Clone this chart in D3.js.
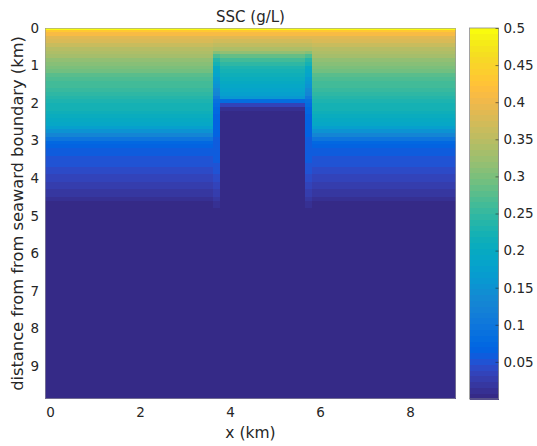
<!DOCTYPE html>
<html><head><meta charset="utf-8">
<script src="https://cdn.jsdelivr.net/npm/d3@7"></script>
<style>
html,body{margin:0;padding:0;background:#fff;}
text{font-family:"DejaVu Sans",sans-serif;fill:#262626;}
</style></head>
<body>
<svg id="chart" width="537" height="446"></svg>
<script>
// ---- data ----
const xTicks = [0, 2, 4, 6, 8];
const yTicks = [0, 1, 2, 3, 4, 5, 6, 7, 8, 9];
const cbTicks = [0.05, 0.1, 0.15, 0.2, 0.25, 0.3, 0.35, 0.4, 0.45, 0.5];
const cbTickLabels = ["0.05", "0.1", "0.15", "0.2", "0.25", "0.3", "0.35", "0.4", "0.45", "0.5"];
// grid row edges (km from seaward boundary)
const depthEdges = [0, 0.05, 0.1, 0.2, 0.3, 0.4, 0.5, 0.6, 0.7, 0.8, 0.9, 1.0,
  1.1, 1.2, 1.3, 1.4, 1.5, 1.6, 1.7, 1.8, 1.9, 2.0, 2.1, 2.2, 2.3, 2.4, 2.5,
  2.6, 2.7, 2.8, 2.9, 3.0, 3.1, 3.2, 3.3, 3.4, 3.5, 3.6, 3.7, 3.8, 3.9, 4.0,
  4.1, 4.2, 4.3, 4.4, 4.5, 4.6, 4.7, 4.8, 4.9, 5.0, 9.88];
// column group edges (x, km)
const xEdges = [-0.11, 3.62, 3.78, 5.67, 5.83, 9.02];
// SSC profiles (g/L), one value per row
const sscOuter = [0.5, 0.43, 0.41, 0.39, 0.375, 0.36, 0.35, 0.34, 0.33, 0.32,
  0.31, 0.30, 0.29, 0.28, 0.272, 0.265, 0.258, 0.25, 0.245, 0.238,
  0.232, 0.226, 0.22, 0.214, 0.207, 0.2, 0.19, 0.175, 0.155, 0.13,
  0.1, 0.078, 0.068, 0.062, 0.058, 0.054, 0.05, 0.047, 0.044, 0.041,
  0.038, 0.035, 0.031, 0.027, 0.023, 0.018, 0.012, 0.006, 0.004, 0.004,
  0.004, 0.004];
const sscEdge = [0.5, 0.43, 0.41, 0.39, 0.372, 0.357, 0.34, 0.305, 0.27, 0.24,
  0.22, 0.203, 0.19, 0.18, 0.17, 0.16, 0.15, 0.14, 0.125, 0.105,
  0.09, 0.08, 0.075, 0.072, 0.07, 0.068, 0.066, 0.065, 0.064, 0.063,
  0.062, 0.061, 0.06, 0.059, 0.058, 0.057, 0.055, 0.053, 0.051, 0.049,
  0.046, 0.043, 0.039, 0.035, 0.03, 0.025, 0.02, 0.015, 0.01, 0.006,
  0.004, 0.004];
const sscIsland = [0.5, 0.43, 0.41, 0.39, 0.373, 0.357, 0.342, 0.315, 0.288, 0.265,
  0.246, 0.232, 0.22, 0.211, 0.204, 0.198, 0.192, 0.186, 0.178, 0.16,
  0.08, 0.035, 0.012, 0.004, 0.004, 0.004, 0.004, 0.004, 0.004, 0.004,
  0.004, 0.004, 0.004, 0.004, 0.004, 0.004, 0.004, 0.004, 0.004, 0.004,
  0.004, 0.004, 0.004, 0.004, 0.004, 0.004, 0.004, 0.004, 0.004, 0.004,
  0.004, 0.004];
const columnProfiles = [sscOuter, sscEdge, sscIsland, sscEdge, sscOuter];

// ---- parula colormap (64) ----
const parula = [[0.2081,0.1663,0.5292],[0.2116,0.1898,0.5777],[0.2123,0.2138,0.6270],[0.2081,0.2386,0.6771],
[0.1959,0.2645,0.7279],[0.1707,0.2919,0.7792],[0.1253,0.3242,0.8303],[0.0591,0.3598,0.8683],
[0.0117,0.3875,0.8820],[0.0060,0.4086,0.8828],[0.0165,0.4266,0.8786],[0.0329,0.4430,0.8720],
[0.0498,0.4586,0.8641],[0.0629,0.4737,0.8554],[0.0723,0.4887,0.8467],[0.0779,0.5040,0.8384],
[0.0793,0.5200,0.8312],[0.0749,0.5375,0.8263],[0.0641,0.5570,0.8240],[0.0488,0.5772,0.8228],
[0.0343,0.5966,0.8199],[0.0265,0.6137,0.8135],[0.0239,0.6287,0.8038],[0.0231,0.6418,0.7913],
[0.0228,0.6535,0.7768],[0.0267,0.6642,0.7607],[0.0384,0.6743,0.7436],[0.0590,0.6838,0.7254],
[0.0843,0.6928,0.7062],[0.1133,0.7015,0.6859],[0.1453,0.7098,0.6646],[0.1801,0.7177,0.6424],
[0.2178,0.7250,0.6193],[0.2586,0.7317,0.5954],[0.3022,0.7376,0.5712],[0.3482,0.7424,0.5473],
[0.3953,0.7459,0.5244],[0.4420,0.7481,0.5033],[0.4871,0.7491,0.4840],[0.5300,0.7491,0.4661],
[0.5709,0.7485,0.4494],[0.6099,0.7473,0.4337],[0.6473,0.7456,0.4188],[0.6834,0.7435,0.4044],
[0.7184,0.7411,0.3905],[0.7525,0.7384,0.3768],[0.7858,0.7356,0.3633],[0.8185,0.7327,0.3498],
[0.8507,0.7299,0.3360],[0.8824,0.7274,0.3217],[0.9139,0.7258,0.3063],[0.9450,0.7261,0.2886],
[0.9739,0.7314,0.2666],[0.9938,0.7455,0.2403],[0.9990,0.7653,0.2164],[0.9955,0.7861,0.1967],
[0.9880,0.8066,0.1794],[0.9789,0.8271,0.1633],[0.9697,0.8481,0.1475],[0.9626,0.8705,0.1309],
[0.9589,0.8949,0.1132],[0.9598,0.9218,0.0948],[0.9661,0.9514,0.0755],[0.9763,0.9831,0.0538]]
  .map(c => d3.rgb(c[0]*255, c[1]*255, c[2]*255).toString());
const cmin = 0, cmax = 0.5;
const colorScale = d3.scaleQuantize().domain([cmin, cmax]).range(parula);

// ---- layout ----
const svg = d3.select("#chart");
const X0 = 45, X1 = 456, Y0 = 28, Y1 = 399;
const x = d3.scaleLinear().domain([-0.11, 9.02]).range([X0, X1]);
const y = d3.scaleLinear().domain([0, 9.88]).range([Y0, Y1]);

// cells
const cells = [];
columnProfiles.forEach((prof, ci) => {
  prof.forEach((v, ri) => {
    cells.push({x0: xEdges[ci], x1: xEdges[ci+1], d0: depthEdges[ri], d1: depthEdges[ri+1], v});
  });
});
svg.append("g").attr("shape-rendering", "crispEdges")
  .selectAll("rect").data(cells).join("rect")
  .attr("x", d => x(d.x0)).attr("y", d => y(d.d0))
  .attr("width", d => x(d.x1) - x(d.x0)).attr("height", d => y(d.d1) - y(d.d0))
  .attr("fill", d => colorScale(Math.min(d.v, cmax - 1e-9)));

// frame
svg.append("rect").attr("x", X0 + 0.5).attr("y", Y0 + 0.5)
  .attr("width", X1 - X0 - 1).attr("height", Y1 - Y0 - 1)
  .attr("fill", "none").attr("stroke", "#9a9a9a").attr("stroke-width", 0.6);

// axes
const xAxis = d3.axisBottom(x).tickValues(xTicks).tickSize(0).tickPadding(8).tickFormat(d3.format("d"));
const gx = svg.append("g").attr("transform", `translate(0,${Y1})`).call(xAxis);
gx.select(".domain").remove();
gx.selectAll("text").attr("font-size", 13.5).style("fill", "#262626").attr("font-family", "DejaVu Sans");

const yAxis = d3.axisLeft(y).tickValues(yTicks).tickSize(0).tickPadding(6).tickFormat(d3.format("d"));
const gy = svg.append("g").attr("transform", `translate(${X0},0)`).call(yAxis);
gy.select(".domain").remove();
gy.selectAll("text").attr("font-size", 13.5).style("fill", "#262626").attr("font-family", "DejaVu Sans");

// titles
svg.append("text").attr("x", (X0 + X1) / 2).attr("y", 22).attr("text-anchor", "middle")
  .attr("font-size", 15).text("SSC (g/L)");
svg.append("text").attr("x", (X0 + X1) / 2).attr("y", 438).attr("text-anchor", "middle")
  .attr("font-size", 15.5).text("x (km)");
svg.append("text").attr("transform", `translate(23,${(Y0 + Y1) / 2}) rotate(-90)`)
  .attr("text-anchor", "middle").attr("font-size", 16.3)
  .text("distance from from seaward boundary (km)");

// colorbar
const CB0 = 469.5, CB1 = 498.5;
const cy = d3.scaleLinear().domain([cmin, cmax]).range([Y1, Y0]);
const nC = parula.length;
const bins = parula.map((c, i) => ({lo: cmin + (cmax - cmin) * i / nC, hi: cmin + (cmax - cmin) * (i + 1) / nC, c}));
svg.append("g").attr("shape-rendering", "crispEdges").selectAll("rect").data(bins).join("rect")
  .attr("x", CB0).attr("width", CB1 - CB0)
  .attr("y", d => cy(d.hi)).attr("height", d => cy(d.lo) - cy(d.hi) + 0.5)
  .attr("fill", d => d.c);
svg.append("rect").attr("x", CB0).attr("y", Y0).attr("width", CB1 - CB0).attr("height", Y1 - Y0)
  .attr("fill", "none").attr("stroke", "#8c8c8c").attr("stroke-width", 0.8);
const cbAxis = d3.axisRight(cy).tickValues(cbTicks).tickSize(-3).tickPadding(5)
  .tickFormat((d, i) => cbTickLabels[i]);
const gc = svg.append("g").attr("transform", `translate(${CB1},0)`).call(cbAxis);
gc.select(".domain").remove();
gc.selectAll("line").attr("stroke", "#262626").attr("stroke-width", 0.6);
gc.selectAll("text").attr("font-size", 13.5).style("fill", "#262626").attr("font-family", "DejaVu Sans");
</script>
</body></html>
